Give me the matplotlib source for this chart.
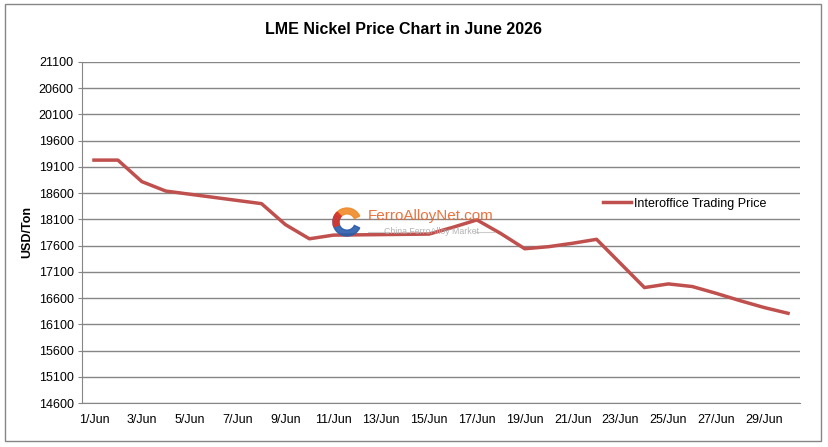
import matplotlib.pyplot as plt
from matplotlib.patches import Rectangle, Wedge
from matplotlib.lines import Line2D

plt.rcParams['font.family'] = ['Liberation Sans', 'DejaVu Sans']

# daily interoffice trading price, USD/Ton, 1-30 June
days = list(range(1, 31))
prices = [19230, 19230, 18820, 18640, 18580, 18520, 18460, 18400, 18000, 17730,
          17800, 17805, 17810, 17815, 17820, 17950, 18090, 17830, 17540, 17580,
          17645, 17720, 17260, 16800, 16870, 16820, 16690, 16550, 16420, 16310]
tick_days = list(range(1, 31, 2))
tick_labels = [f"{d}/Jun" for d in tick_days]
yticks = list(range(14600, 21101, 500))

title = "LME Nickel Price Chart in June 2026"
series_name = "Interoffice Trading Price"


def plot_chart():
    fig = plt.figure(figsize=(8.29, 4.47), dpi=100)
    ax = fig.add_axes([82 / 829, 1 - 403 / 447, 718 / 829, 341 / 447])

    # outer chart border
    fig.patches.append(Rectangle((5 / 829, 1 - 441 / 447), 816 / 829, 437 / 447,
                                 transform=fig.transFigure, fill=False,
                                 edgecolor='#868686', lw=1))

    ax.plot(days, prices, color='#C0504D', lw=2.5, label=series_name, zorder=3)

    ax.set_xlim(0.5, 30.5)
    ax.set_ylim(14600, 21100)
    ax.set_yticks(yticks)
    ax.set_xticks(tick_days)
    ax.set_xticklabels(tick_labels)
    ax.tick_params(axis='y', length=3, color='#868686', labelsize=9, pad=3)
    ax.tick_params(axis='x', length=0, labelsize=9, pad=8)

    ax.grid(axis='y', color='#868686', lw=1)
    ax.set_axisbelow(True)
    for s in ['top', 'right']:
        ax.spines[s].set_visible(False)
    for s in ['left', 'bottom']:
        ax.spines[s].set_color('#868686')

    ax.set_ylabel("USD/Ton", fontsize=9, fontweight='bold', labelpad=4)
    fig.text(404 / 829, 1 - 30 / 447, title, ha='center', va='center',
             fontsize=11.5, fontweight='bold')

    ax.legend(loc='center left', bbox_to_anchor=(0.71, 0.584), frameon=False,
              fontsize=9, handlelength=2.2, handletextpad=0.3)

    # watermark (drawn in inches so the logo stays round)
    tr = fig.dpi_scale_trans
    cx, cy, r = 3.47, (447 - 222) / 100, 0.14
    fig.patches.append(Wedge((cx, cy), r, 25, 150, width=r * 0.42,
                             transform=tr, color='#F08A2A', alpha=0.9))
    fig.patches.append(Wedge((cx, cy), r, 150, 335, width=r * 0.42,
                             transform=tr, color='#2A5CAA', alpha=0.9))
    fig.patches.append(Wedge((cx, cy), r, 135, 200, width=r * 0.42,
                             transform=tr, color='#D9352A', alpha=0.9))
    fig.text(368 / 829, 1 - 216 / 447, "FerroAlloyNet.com", color='#E8642A',
             fontsize=11, alpha=0.9, va='center')
    fig.text(431 / 829, 1 - 232 / 447, "China FerroAlloy Market", color='#AAAAAA',
             fontsize=6.3, alpha=0.9, va='center', ha='center')
    for x0, x1 in [(368, 388), (475, 494)]:
        fig.add_artist(Line2D([x0 / 829, x1 / 829], [1 - 232 / 447] * 2,
                              color='#CCCCCC', lw=0.8))

    fig.savefig("out.png", dpi=100)


if __name__ == '__main__':
    plot_chart()
